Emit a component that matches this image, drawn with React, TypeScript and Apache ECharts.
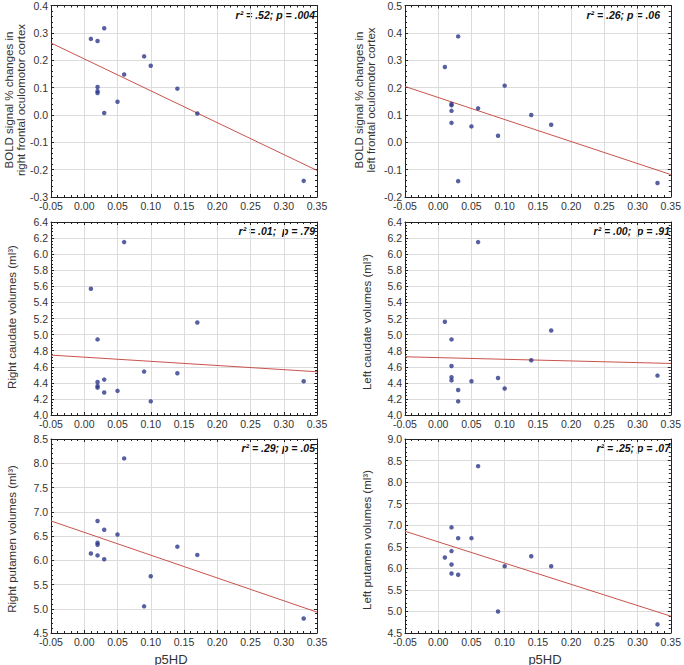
import React, { useEffect, useRef } from "react";
import * as echarts from "echarts";

const X_MIN = -0.05;
const X_MAX = 0.35;
const X_STEP = 0.05;

const p1X = [0.01, 0.02, 0.03, 0.02, 0.02, 0.02, 0.03, 0.05, 0.06, 0.09, 0.10, 0.14, 0.17, 0.33];
const p1Y = [0.278, 0.270, 0.317, 0.102, 0.087, 0.080, 0.007, 0.048, 0.148, 0.214, 0.180, 0.096, 0.005, -0.241];
const p1Fit = [0.263, -0.203];

const p2X = [0.01, 0.03, 0.02, 0.02, 0.02, 0.02, 0.03, 0.05, 0.06, 0.09, 0.10, 0.14, 0.17, 0.33];
const p2Y = [0.275, 0.387, 0.140, 0.135, 0.115, 0.071, -0.142, 0.058, 0.124, 0.024, 0.207, 0.100, 0.064, -0.149];
const p2Fit = [0.204, -0.118];

const p3X = [0.01, 0.06, 0.02, 0.02, 0.02, 0.02, 0.03, 0.03, 0.05, 0.09, 0.10, 0.14, 0.17, 0.33];
const p3Y = [5.57, 6.15, 4.94, 4.41, 4.36, 4.34, 4.44, 4.28, 4.30, 4.54, 4.17, 4.52, 5.15, 4.42];
const p3Fit = [4.745, 4.538];

const p4X = [0.01, 0.06, 0.02, 0.02, 0.02, 0.02, 0.03, 0.03, 0.05, 0.09, 0.10, 0.14, 0.17, 0.33];
const p4Y = [5.16, 6.15, 4.94, 4.61, 4.47, 4.43, 4.31, 4.17, 4.42, 4.46, 4.33, 4.68, 5.05, 4.49];
const p4Fit = [4.724, 4.641];

const p5X = [0.06, 0.02, 0.03, 0.05, 0.02, 0.02, 0.01, 0.02, 0.03, 0.10, 0.09, 0.14, 0.17, 0.33];
const p5Y = [8.10, 6.81, 6.63, 6.53, 6.36, 6.32, 6.14, 6.10, 6.02, 5.67, 5.05, 6.28, 6.11, 4.80];
const p5Fit = [6.81, 4.93];

const p6X = [0.06, 0.02, 0.03, 0.05, 0.02, 0.01, 0.02, 0.02, 0.03, 0.10, 0.09, 0.14, 0.17, 0.33];
const p6Y = [8.37, 6.95, 6.70, 6.70, 6.40, 6.25, 6.09, 5.88, 5.85, 6.05, 5.00, 6.28, 6.05, 4.70];
const p6Fit = [6.86, 4.89];

const yLabels = [
  "BOLD signal % changes in\nright frontal oculomotor cortex",
  "BOLD signal % changes in\nleft frontal oculomotor cortex",
  "Right caudate volumes (ml³)",
  "Left caudate volumes (ml³)",
  "Right putamen volumes (ml³)",
  "Left putamen volumes (ml³)",
];
const stats = [
  "r² = .52; p = .004",
  "r² = .26; p = .06",
  "r² = .01;  p = .79",
  "r² = .00;  p = .91",
  "r² = .29; p = .05",
  "r² = .25; p = .07",
];
const xTitle = "p5HD";

const yRanges = [
  [-0.3, 0.4, 0.1, 1],
  [-0.2, 0.5, 0.1, 1],
  [4.0, 6.4, 0.2, 1],
  [4.0, 6.4, 0.2, 1],
  [4.5, 8.5, 0.5, 1],
  [4.5, 9.0, 0.5, 1],
];

const panelsX = [p1X, p2X, p3X, p4X, p5X, p6X];
const panelsY = [p1Y, p2Y, p3Y, p4Y, p5Y, p6Y];
const panelsFit = [p1Fit, p2Fit, p3Fit, p4Fit, p5Fit, p6Fit];

const grids = [
  { left: 51, top: 5, width: 266, height: 192 },
  { left: 405, top: 5, width: 269, height: 192 },
  { left: 51, top: 222, width: 266, height: 193 },
  { left: 405, top: 222, width: 269, height: 193 },
  { left: 51, top: 439, width: 266, height: 194 },
  { left: 405, top: 439, width: 269, height: 194 },
];
const yLabelPos = [
  [15, 100], [365, 100], [12, 317], [367, 322], [12, 539], [367, 540],
];
const statPos = [
  [315, 15], [660, 15], [315, 231], [670, 231], [315, 448], [670, 448],
];

const FONT = "Liberation Sans, Arial, sans-serif";
const TXT = "#333";
const AXIS = "#222";

export default function App() {
  const ref = useRef<HTMLDivElement>(null);
  useEffect(() => {
    if (!ref.current) return;
    const chart = echarts.init(ref.current, null, { renderer: "svg" });
    const xAxis: any[] = [];
    const yAxis: any[] = [];
    const series: any[] = [];
    const graphic: any[] = [];
    grids.forEach((g, i) => {
      const [ymin, ymax, ystep] = yRanges[i];
      const common = {
        gridIndex: i,
        type: "value",
        axisLine: { show: true, onZero: false, lineStyle: { color: AXIS, width: 1 } },
        axisTick: { show: true, inside: true, length: 3, lineStyle: { color: AXIS } },
        minorTick: { show: true, splitNumber: 5, length: 2, lineStyle: { color: AXIS } },
      };
      xAxis.push({
        ...common,
        position: "bottom",
        min: X_MIN,
        max: X_MAX,
        interval: X_STEP,
        axisLabel: { color: TXT, fontSize: 10.5, fontFamily: FONT, margin: 3, formatter: (v: number) => v.toFixed(2) },
        splitLine: { show: true, lineStyle: { color: "#dcdcdc", width: 1 } },
      });
      xAxis.push({
        ...common,
        position: "top",
        min: X_MIN,
        max: X_MAX,
        interval: X_STEP,
        axisLabel: { show: false },
        splitLine: { show: false },
      });
      yAxis.push({
        ...common,
        position: "left",
        min: ymin,
        max: ymax,
        interval: ystep,
        axisLabel: { color: TXT, fontSize: 10.5, fontFamily: FONT, margin: 3, formatter: (v: number) => v.toFixed(1) },
        splitLine: { show: true, lineStyle: { color: "#dcdcdc", width: 1 } },
      });
      yAxis.push({
        ...common,
        position: "right",
        min: ymin,
        max: ymax,
        interval: ystep,
        axisLabel: { show: false },
        splitLine: { show: false },
      });
      const fit = panelsFit[i];
      series.push({
        type: "line",
        xAxisIndex: 2 * i,
        yAxisIndex: 2 * i,
        data: [[X_MIN, fit[0]], [X_MAX, fit[1]]],
        showSymbol: false,
        symbol: "none",
        lineStyle: { color: "#c9534c", width: 1 },
        silent: true,
        z: 2,
      });
      series.push({
        type: "scatter",
        xAxisIndex: 2 * i,
        yAxisIndex: 2 * i,
        data: panelsX[i].map((x, k) => [x, panelsY[i][k]]),
        symbolSize: 4.5,
        itemStyle: { color: "#2d3a8a" },
        z: 3,
      });
      graphic.push({
        type: "text",
        x: yLabelPos[i][0],
        y: yLabelPos[i][1],
        rotation: Math.PI / 2,
        style: {
          text: yLabels[i],
          fontSize: 11.5,
          fontFamily: FONT,
          fill: TXT,
          align: "center",
          verticalAlign: "middle",
          lineHeight: 12,
        },
      });
      graphic.push({
        type: "text",
        x: statPos[i][0],
        y: statPos[i][1],
        style: {
          text: stats[i],
          fontSize: 10.5,
          fontStyle: "italic",
          fontWeight: "bold",
          fontFamily: FONT,
          fill: "#111",
          align: "right",
          verticalAlign: "middle",
        },
      });
    });
    graphic.push({
      type: "text", x: 171, y: 659,
      style: { text: xTitle, fontSize: 13, fontFamily: FONT, fill: TXT, align: "center", verticalAlign: "middle" },
    });
    graphic.push({
      type: "text", x: 545, y: 659,
      style: { text: xTitle, fontSize: 13, fontFamily: FONT, fill: TXT, align: "center", verticalAlign: "middle" },
    });
    chart.setOption({
      animation: false,
      backgroundColor: "#ffffff",
      grid: grids.map((g) => ({ ...g, containLabel: false })),
      xAxis,
      yAxis,
      series,
      graphic,
    });
    return () => chart.dispose();
  }, []);
  return (
    <div
      ref={ref}
      style={{ position: "fixed", left: 0, top: 0, width: 684, height: 665, background: "#fff" }}
    />
  );
}
